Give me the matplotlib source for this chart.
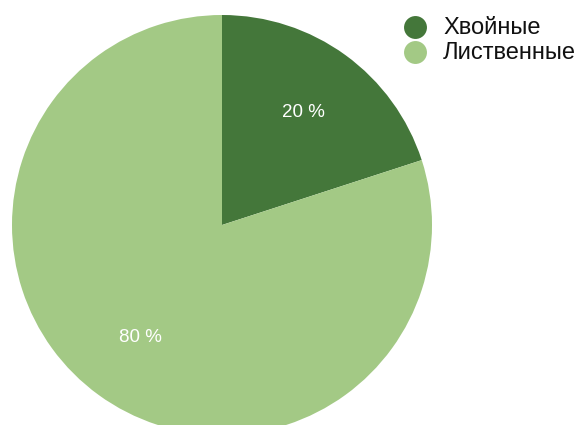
import matplotlib
matplotlib.use("Agg")
import matplotlib.pyplot as plt

plt.rcParams['font.family'] = ['Liberation Sans', 'DejaVu Sans']

categories = ["Хвойные", "Лиственные"]
shares = [20, 80]
colors = ["#44773a", "#a3c985"]

W, H = 582, 425
fig = plt.figure(figsize=(W / 100, H / 100), dpi=100)

# pie: centre (222, 225) px, radius 210 px; lower rim runs off the canvas
cx, cy, r = 222, 225, 210
ax = fig.add_axes([(cx - r) / W, (H - cy - r) / H, 2 * r / W, 2 * r / H])
wedges, texts, autotexts = ax.pie(
    shares, colors=colors, startangle=90, counterclock=False,
    autopct=lambda p: f"{p:.0f} %", pctdistance=0.66,
    wedgeprops=dict(linewidth=0),
    textprops=dict(color="white", fontsize=13.5),
)
ax.set_xlim(-1, 1)
ax.set_ylim(-1, 1)
ax.axis('off')

# legend in pixel coordinates
lg = fig.add_axes([0, 0, 1, 1], facecolor='none')
lg.set_xlim(0, W)
lg.set_ylim(H, 0)
lg.axis('off')
for i, (name, col) in enumerate(zip(categories, colors)):
    y = 27 + 25 * i
    lg.scatter([414.5], [y], s=16.5 ** 2, color=col, linewidths=0)
    lg.text(443, y + 1, name, fontsize=17, va='center', ha='left', color='#111111')

fig.savefig("out.png", dpi=100)
